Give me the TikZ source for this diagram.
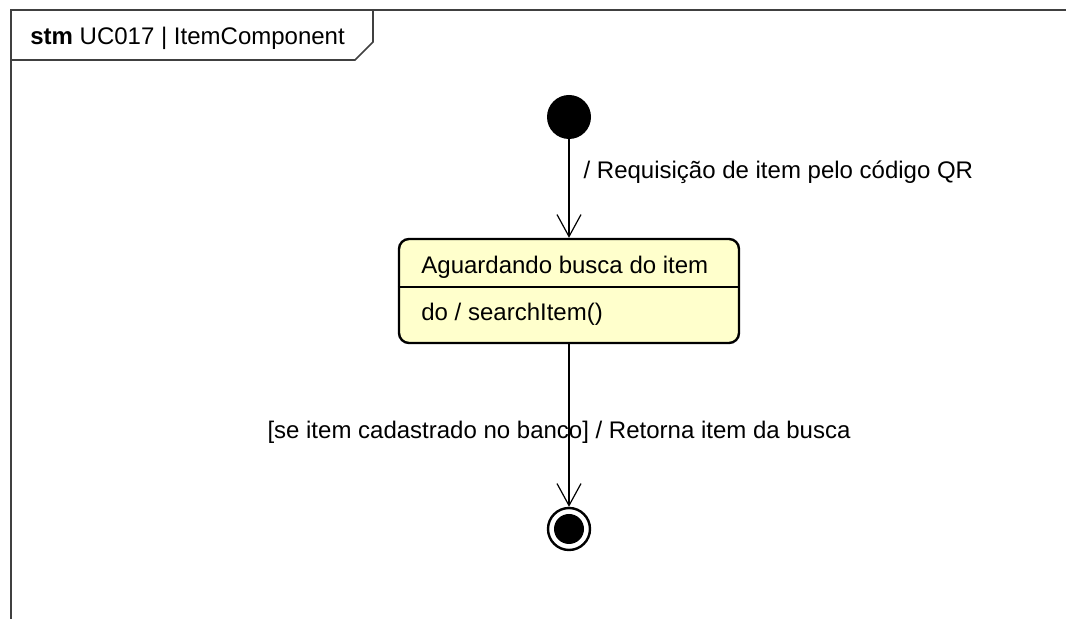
\documentclass[tikz,border=0pt]{standalone}
\usepackage{fontspec}
\setmainfont{Liberation Sans}
\usepackage{tikz}
\usetikzlibrary{arrows.meta, positioning, calc}
\definecolor{myframe}{RGB}{64,64,64}
\definecolor{mystate}{RGB}{255,255,204}
\tikzset{
  statebox/.style={rectangle, draw=black, fill=mystate, rounded corners=5pt,
    line width=1.2pt, minimum width=170pt, minimum height=52pt, inner sep=0pt},
  txt/.style={font=\fontsize{12}{14}\selectfont, inner sep=0pt},
  trans/.style={-{Straight Barb[length=11pt, width=12pt, line width=0.6pt]}, line width=0.6pt, color=black}
}

\begin{document}
\begin{tikzpicture}[x=0.5pt, y=-0.5pt]
  \useasboundingbox (0,0) rectangle (1066,619);

  % Frame
  \draw[myframe, line width=1pt] (11,619) -- (11,10) -- (1066,10);
  \draw[myframe, line width=0.8pt] (11,60) -- (355,60) -- (373,42) -- (373,10);
  \node[txt, anchor=west] (title) at (30,38) {\textbf{stm} UC017 | ItemComponent};

  % Nodes
  \node[circle, fill=black, minimum size=22pt, inner sep=0pt] (init) at (569,117) {};

  \node[statebox] (wait) at (569,291) {};
  \draw[line width=0.6pt] (wait.west |- 0,287) -- (wait.east |- 0,287);
  \node[txt, anchor=west] (wname) at (421,267) {Aguardando busca do item};
  \node[txt, anchor=west] (wdo) at (421,314) {do / searchItem()};

  \node[circle, draw=black, line width=1.2pt, minimum size=21pt, inner sep=0pt] (final) at (569,529) {};
  \node[circle, fill=black, minimum size=15pt, inner sep=0pt] (finaldot) at (final.center) {};

  % Connections
  \draw[trans] (init.south) -- node[txt, pos=0.33, anchor=west, xshift=7pt] {/ Requisição de item pelo código QR} (wait.north);
  \draw[trans] (wait.south) -- node[txt, pos=0.54, xshift=-5pt] {[se item cadastrado no banco] / Retorna item da busca} (final.north);
\end{tikzpicture}
\end{document}
